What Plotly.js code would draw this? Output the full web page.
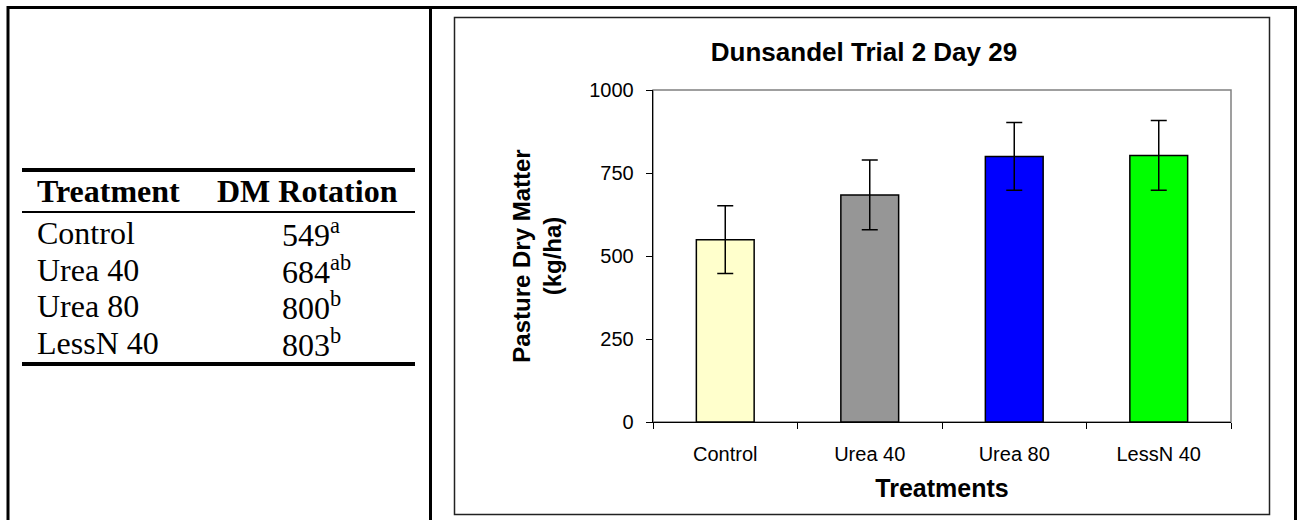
<!DOCTYPE html>
<html>
<head>
<meta charset="utf-8">
<script src="https://cdn.plot.ly/plotly-3.0.1.min.js"></script>
<style>
  html, body { margin: 0; padding: 0; background: #fff; }
  #chart { width: 1300px; height: 520px; }
</style>
</head>
<body>
<div id="chart"></div>
<script>
// ---- data ----
const treatments = ['Control', 'Urea 40', 'Urea 80', 'LessN 40'];
const dmRotation = [549, 684, 800, 803];
const sigLetters = ['a', 'ab', 'b', 'b'];
const errorValues = [102, 105, 102, 105];
const yTicks = [0, 250, 500, 750, 1000];
const tableHeaders = ['Treatment', 'DM Rotation'];
const chartTitle = 'Dunsandel Trial 2 Day 29';
const yTitle = 'Pasture Dry Matter<br>(kg/ha)';
const xTitle = 'Treatments';

// ---- styles ----
const barColors = ['#FFFFCC', '#969696', '#0000FF', '#00FF00'];
const SANS = 'Arial, "Liberation Sans", sans-serif';
const SERIF = '"Times New Roman", "Liberation Serif", serif';

// plot area geometry (pixels)
const W = 1300, H = 520;
const PL = 653, PR = 1231, PT = 90, PB = 422;
const px = x => (x - PL) / (PR - PL);
const py = y => (PB - y) / (PB - PT);

const shapes = [];
function hline(x0, x1, y, w, c) {
  shapes.push({type: 'line', xref: 'paper', yref: 'paper', x0: px(x0), x1: px(x1), y0: py(y), y1: py(y),
    line: {color: c || '#000', width: w}});
}
function vline(x, y0, y1, w, c) {
  shapes.push({type: 'line', xref: 'paper', yref: 'paper', x0: px(x), x1: px(x), y0: py(y0), y1: py(y1),
    line: {color: c || '#000', width: w}});
}
// outer page frame
hline(7, 1297, 7.5, 3);
vline(8, 6, 522, 3);
vline(430.5, 6, 522, 3);
vline(1295.5, 6, 522, 3);
// chart frame
shapes.push({type: 'rect', xref: 'paper', yref: 'paper', x0: px(454.5), x1: px(1269.5), y0: py(17.5), y1: py(514.5),
  line: {color: '#222', width: 1.5}, fillcolor: 'rgba(0,0,0,0)'});
// plot area border (grey, top & right)
shapes.push({type: 'rect', xref: 'paper', yref: 'paper', x0: 0, x1: 1, y0: 0, y1: 1, layer: 'below',
  line: {color: '#808080', width: 1.5}, fillcolor: 'rgba(0,0,0,0)'});
// table rules
hline(22, 415, 170, 4);
hline(22, 415, 212, 2);
hline(22, 415, 364, 4);

// table text as annotations
const annotations = [];
const headerY = 191;
const rowY0 = 233, rowStep = 36.5;
const TFS = 32;
annotations.push({xref: 'paper', yref: 'paper', x: px(35), y: py(headerY), xanchor: 'left', yanchor: 'middle',
  text: '<b>' + tableHeaders[0] + '</b>', showarrow: false, font: {family: SERIF, size: TFS, color: '#000'}});
annotations.push({xref: 'paper', yref: 'paper', x: px(215), y: py(headerY), xanchor: 'left', yanchor: 'middle',
  text: '<b>' + tableHeaders[1] + '</b>', showarrow: false, font: {family: SERIF, size: TFS, color: '#000'}});
treatments.forEach((t, i) => {
  const yy = py(rowY0 + i * rowStep);
  annotations.push({xref: 'paper', yref: 'paper', x: px(35), y: yy, xanchor: 'left', yanchor: 'middle',
    text: t, showarrow: false, font: {family: SERIF, size: TFS, color: '#000'}});
  annotations.push({xref: 'paper', yref: 'paper', x: px(280), y: yy, xanchor: 'left', yanchor: 'middle',
    text: dmRotation[i] + '<sup>' + sigLetters[i] + '</sup>', showarrow: false,
    font: {family: SERIF, size: TFS, color: '#000'}});
});

const trace = {
  type: 'bar',
  x: treatments,
  y: dmRotation,
  marker: {color: barColors, line: {color: '#000', width: 1.5}},
  error_y: {type: 'data', array: errorValues, visible: true, color: '#000', thickness: 1.5, width: 8},
  hoverinfo: 'x+y'
};

const layout = {
  width: W, height: H,
  margin: {l: PL, r: W - PR, t: PT, b: H - PB, pad: 0, autoexpand: false},
  paper_bgcolor: '#fff', plot_bgcolor: '#fff',
  showlegend: false,
  bargap: 0.6,
  font: {family: SANS, color: '#000'},
  title: {text: '<b>' + chartTitle + '</b>', xref: 'container', yref: 'container',
    x: 864 / W, y: 1 - 52 / H, xanchor: 'center', yanchor: 'middle',
    font: {family: SANS, size: 26, color: '#000'}},
  xaxis: {
    type: 'category', tickson: 'boundaries', ticks: 'outside', ticklen: 6, tickwidth: 1, tickcolor: '#000',
    showline: true, linecolor: '#000', linewidth: 1.3, showgrid: false, zeroline: false,
    tickfont: {family: SANS, size: 20, color: '#000'}, ticklabelstandoff: 14,
    title: {text: '<b>' + xTitle + '</b>', font: {family: SANS, size: 25, color: '#000'}, standoff: 15}
  },
  yaxis: {
    range: [0, 1000], tickvals: yTicks, ticktext: yTicks.map(String), ticks: 'outside', ticklen: 6,
    tickwidth: 1, tickcolor: '#000', showline: true, linecolor: '#000', linewidth: 1.3,
    showgrid: false, zeroline: false, tickfont: {family: SANS, size: 20, color: '#000'},
    ticklabelstandoff: 8,
    title: {text: '<b>' + yTitle + '</b>', font: {family: SANS, size: 24, color: '#000'}, standoff: 20}
  },
  shapes: shapes,
  annotations: annotations
};

Plotly.newPlot('chart', [trace], layout, {displayModeBar: false, staticPlot: true});
</script>
</body>
</html>
